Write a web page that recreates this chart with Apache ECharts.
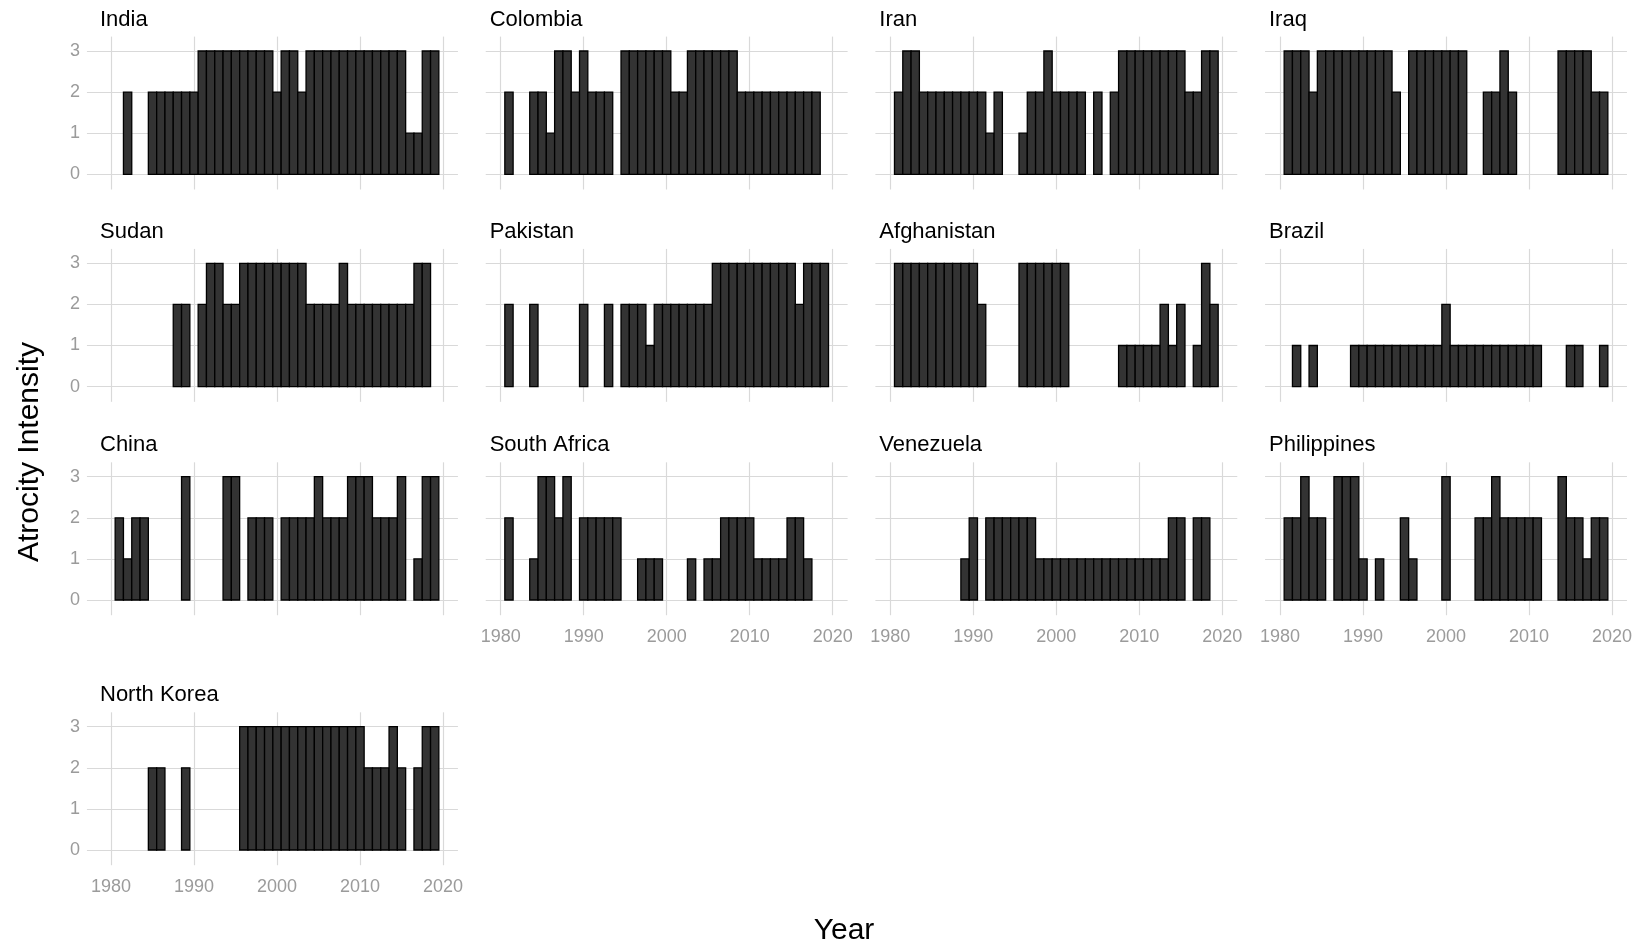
<!DOCTYPE html>
<html>
<head>
<meta charset="utf-8">
<title>Atrocity Intensity by Country</title>
<script src="https://cdn.jsdelivr.net/npm/echarts@6/dist/echarts.min.js"></script>
<style>
  html, body { margin: 0; padding: 0; background: #ffffff; }
  #chart { width: 1644px; height: 949px; }
</style>
</head>
<body>
<div id="chart"></div>
<script>
// Yearly atrocity intensity (0-3), one value per year from 1981 to 2019; null = no record.
const _ = null;
const firstYear = 1981;
const countries = ['India', 'Colombia', 'Iran', 'Iraq', 'Sudan', 'Pakistan', 'Afghanistan',
  'Brazil', 'China', 'South Africa', 'Venezuela', 'Philippines', 'North Korea'];

const india = [_,2,_,_,2,2,2,2,2,2, 3,3,3,3,3,3,3,3,3,2, 3,3,2,3,3,3,3,3,3,3, 3,3,3,3,3,1,1,3,3];
const colombia = [2,_,_,2,2,1,3,3,2,3, 2,2,2,_,3,3,3,3,3,3, 2,2,3,3,3,3,3,3,2,2, 2,2,2,2,2,2,2,2,_];
const iran = [2,3,3,2,2,2,2,2,2,2, 2,1,2,_,_,1,2,2,3,2, 2,2,2,_,2,_,2,3,3,3, 3,3,3,3,3,2,2,3,3];
const iraq = [3,3,3,2,3,3,3,3,3,3, 3,3,3,2,_,3,3,3,3,3, 3,3,_,_,2,2,3,2,_,_, _,_,_,3,3,3,3,2,2];
const sudan = [_,_,_,_,_,_,_,2,2,_, 2,3,3,2,2,3,3,3,3,3, 3,3,3,2,2,2,2,3,2,2, 2,2,2,2,2,2,3,3,_];
const pakistan = [2,_,_,2,_,_,_,_,_,2, _,_,2,_,2,2,2,1,2,2, 2,2,2,2,2,3,3,3,3,3, 3,3,3,3,3,2,3,3,3];
const afghanistan = [3,3,3,3,3,3,3,3,3,3, 2,_,_,_,_,3,3,3,3,3, 3,_,_,_,_,_,_,1,1,1, 1,1,2,1,2,_,1,3,2];
const brazil = [_,1,_,1,_,_,_,_,1,1, 1,1,1,1,1,1,1,1,1,2, 1,1,1,1,1,1,1,1,1,1, 1,_,_,_,1,1,_,_,1];
const china = [2,1,2,2,_,_,_,_,3,_, _,_,_,3,3,_,2,2,2,_, 2,2,2,2,3,2,2,2,3,3, 3,2,2,2,3,_,1,3,3];
const southAfrica = [2,_,_,1,3,3,2,3,_,2, 2,2,2,2,_,_,1,1,1,_, _,_,1,_,1,1,2,2,2,2, 1,1,1,1,2,2,1,_,_];
const venezuela = [_,_,_,_,_,_,_,_,1,2, _,2,2,2,2,2,2,1,1,1, 1,1,1,1,1,1,1,1,1,1, 1,1,1,2,2,_,2,2,_];
const philippines = [2,2,3,2,2,_,3,3,3,1, _,1,_,_,2,1,_,_,_,3, _,_,_,2,2,3,2,2,2,2, 2,_,_,3,2,2,1,2,2];
const northKorea = [_,_,_,_,2,2,_,_,2,_, _,_,_,_,_,3,3,3,3,3, 3,3,3,3,3,3,3,3,3,3, 2,2,2,3,2,_,2,3,3];

const seriesValues = [india, colombia, iran, iraq, sudan, pakistan, afghanistan,
  brazil, china, southAfrica, venezuela, philippines, northKorea];

const yearTicks = [1980, 1990, 2000, 2010, 2020];
const intensityTicks = [0, 1, 2, 3];

// ---- layout of the small-multiple panels ----
const FONT = 'Liberation Sans, Arial, Helvetica, sans-serif';
const NCOL = 4;
const pxPerYear = 8.3;
const pxPerUnit = 41.1;
const colAt1980 = [111, 500.67, 890.33, 1280];
const colXMin = [1977.1, 1978.2, 1978.2, 1978.2];
const xMax = 2021.8;
const rowAt3 = [51, 263.3, 476.7, 726.7];
const yMin = -0.37, yMax = 3.35;

const grids = [], xAxes = [], yAxes = [], series = [], titles = [];
const nPanels = countries.length;

countries.forEach((name, i) => {
  const col = i % NCOL;
  const row = Math.floor(i / NCOL);
  const left = colAt1980[col] - (1980 - colXMin[col]) * pxPerYear;
  const top = rowAt3[row] - (yMax - 3) * pxPerUnit;
  const width = (xMax - colXMin[col]) * pxPerYear;
  const height = (yMax - yMin) * pxPerUnit;
  // x labels only on the lowest panel of each column
  const showX = i + NCOL >= nPanels;
  const showY = col === 0;

  grids.push({ left: left, top: top, width: width, height: height, containLabel: false });
  xAxes.push({
    type: 'value', gridIndex: i, min: colXMin[col], max: xMax,
    axisLine: { show: false },
    axisTick: { show: false, customValues: yearTicks },
    axisLabel: { show: showX, customValues: yearTicks, color: '#9b9b9b',
      fontFamily: FONT, fontSize: 18, margin: 13, formatter: v => String(v) },
    splitLine: { show: true, lineStyle: { color: '#d9d9d9', width: 1.2 } }
  });
  yAxes.push({
    type: 'value', gridIndex: i, min: yMin, max: yMax,
    axisLine: { show: false },
    axisTick: { show: false, customValues: intensityTicks },
    axisLabel: { show: showY, customValues: intensityTicks, color: '#9b9b9b',
      fontFamily: FONT, fontSize: 18, margin: 7, formatter: v => String(v) },
    splitLine: { show: true, lineStyle: { color: '#d9d9d9', width: 1.2 } }
  });

  const points = [];
  seriesValues[i].forEach((v, k) => { if (v !== null) points.push([firstYear + k, v]); });

  series.push({
    type: 'custom', name: name, xAxisIndex: i, yAxisIndex: i,
    data: points,
    renderItem: function (params, api) {
      const yr = api.value(0), v = api.value(1);
      const p0 = api.coord([yr - 0.5, v]);
      const p1 = api.coord([yr + 0.5, 0]);
      return {
        type: 'rect',
        shape: { x: p0[0], y: p0[1], width: p1[0] - p0[0], height: p1[1] - p0[1] },
        style: { fill: '#333333', stroke: '#000000', lineWidth: 1.3 }
      };
    }
  });

  titles.push({
    text: name, left: 100 + col * 389.67, top: top - 28,
    textStyle: { fontFamily: FONT, fontSize: 22, fontWeight: 'normal', color: '#000' },
    padding: 0
  });
});

const chart = echarts.init(document.getElementById('chart'), null, { renderer: 'canvas' });
chart.setOption({
  backgroundColor: '#ffffff',
  animation: false,
  title: titles,
  grid: grids,
  xAxis: xAxes,
  yAxis: yAxes,
  series: series,
  graphic: [
    { type: 'text', x: 30, y: 452, rotation: Math.PI / 2,
      style: { text: 'Atrocity Intensity', font: '30px ' + FONT, fill: '#000',
        align: 'center', verticalAlign: 'middle' } },
    { type: 'text', x: 844, y: 931,
      style: { text: 'Year', font: '30px ' + FONT, fill: '#000',
        align: 'center', verticalAlign: 'middle' } }
  ]
});
</script>
</body>
</html>
